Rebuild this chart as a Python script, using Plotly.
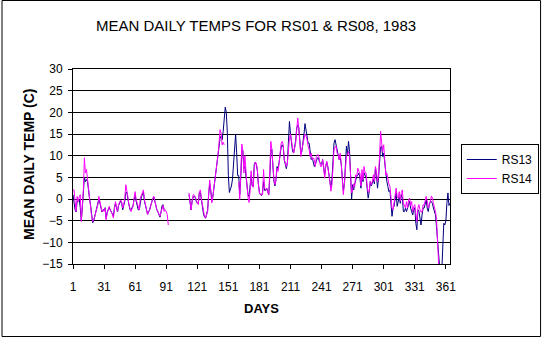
import plotly.graph_objects as go

days = list(range(1, 366))

# RS13 (navy) mean daily temperature, None = missing
rs13 = [
    1.0, -1.0, -2.5, -3.0, -0.5, -0.5, 0.0, -2.0, -5.0, -2.0,
    1.0, 5.0, 4.0, 4.5, 4.0, 1.5, 0.0, -1.5, -4.5, -5.5,
    -5.0, -4.0, -3.0, -2.5, -1.5, 0.0, -1.0, -2.5, -3.0, -2.5,
    -2.5, -2.0, -4.5, -3.0, -2.5, -2.0, -2.5, -3.0, -3.5, -4.0,
    -2.0, -1.0, -2.0, -3.0, -1.5, -1.0, -0.5, -1.0, -2.5, -1.5,
    -0.5, 1.5, 1.5, 0.0, -1.5, -2.5, -2.5, -2.0, -1.5, 0.0,
    1.0, -0.5, -1.5, -2.5, -2.5, -0.5, 0.5, 1.0, 1.5, -0.5,
    -1.5, -2.5, -3.5,
    -3.0, -2.5, -1.5, -0.5, 0.0, 0.5, -0.5,
    -2.0, -2.5, -3.0, -3.8, -4.2, -3.0, -1.5, -1.3, -2.5, None,
    None, None, None,
    None, None, None, None, None, None, None, None, None, None,
    None, None, None, None, None, None, None, None, None,
    1.0, -1.5, -2.5, -0.5, 0.5, 0.5, 0.5, -0.5,
    -1.0, -1.0, 1.5, 1.5, -0.5, -2.0, -3.5, -4.2, -4.4, -3.5,
    -2.5, 1.0, 3.5, 2.0, -0.5, 0.5, 2.5, 3.5, 6.0, 8.0,
    9.5, 11.5, 14.0, 14.5, 13.7, 15.6, 18.7,
    21.2, 20.0, 15.4, 5.4, 1.5, 2.3, 3.0, 4.6, 8.0, 11.0, 15.0, 10.8, 5.4,
    5.4, 1.0, 5.0, 11.0, 11.2, 7.0, 7.5, 5.0, 4.0, 1.0,
    0.5, 2.5, 5.5, 3.0, 3.0, 8.0, 8.5, 8.0, 6.5, 3.5,
    1.5, 1.0, 0.8, 1.5, 4.0,
    2.0, 2.0, 2.5, 1.5, 1.0,
    5.0, 11.0, 11.4, 7.0, 4.0, 3.0, 4.5, 7.5, 7.0, 8.5,
    10.5, 12.0, 12.5, 12.0, 9.0, 7.5, 7.0, 8.5, 12.0, 17.9,
    15.0, 12.5, 11.0, 10.6, 12.0, 13.5, 16.4, 17.0, 16.4, 13.0,
    10.6, 11.0, 12.5, 14.9, 17.4, 15.6, 14.0, 12.9, 12.9, 11.0,
    9.1, 9.5, 8.5, 7.5, 8.0, 9.0, 9.5, 9.5, 8.5, 8.3,
    8.0, 9.1, 7.0, 5.5, 7.5, 8.5, 7.5, 6.0, 4.1, 2.5,
    4.5, 8.3, 12.9, 13.7, 12.2, 10.6, 10.2, 9.1, 9.5, 8.0,
    4.5, 2.0, 3.3, 7.5, 12.2, 10.2, 13.3, 11.0, 5.0, 0.0,
    3.3, 2.1, 3.5, 4.5, 5.2, 5.5, 6.0, 5.0, 2.5, 5.5,
    4.0, 6.0, 5.5, 5.0, 2.5, 0.2, 1.7, 4.0, 3.0, 3.7,
    4.5, 3.5,
    7.0, 5.5, 2.5, 4.8, 8.3, 12.0, 12.2, 9.8,
    10.6, 8.0, 5.2, 4.1, 2.9, 1.7, 2.0, -1.3, -4.0, -2.1,
    -1.7, 0.0, 1.5, -1.7, -0.5, 0.5, -1.0, 1.0, 0.2, -2.9,
    -2.9, -2.1, -2.9, -2.1, -1.0, -0.5, -2.1, -2.9, -3.7, -2.5,
    -2.0, -5.6, -7.1, -2.5, -2.9, -4.4, -6.0, -3.7, -2.1, -2.1,
    -1.0, -0.2, -2.1, -2.9, -1.3, -0.6, -0.6, -1.0, -2.1, -2.9,
    -3.7, -6.4, -10.5, -14.0, -17.0, -19.0, -17.0, -9.4, -5.6, -6.0,
    -5.0, -1.0, 1.4, -1.5, -1.0,
]

# RS14 (magenta) mean daily temperature, None = missing
rs14 = [
    2.0, 2.1, -0.5, -2.9, 0.6, -0.6, 0.5, 1.0, -5.2, -1.7,
    2.1, 9.5, 6.0, 6.8, 4.5, 1.4, 0.2, -1.7, -4.0, -5.2,
    -4.8, -4.0, -2.9, -2.5, -1.3, 0.6, -0.5, -2.1, -2.9, -2.5,
    -2.9, -2.1, -4.8, -3.3, -2.5, -1.7, -2.5, -2.9, -3.5, -4.4,
    -1.7, -0.6, -1.7, -2.9, -1.3, -0.5, -0.2, -0.6, -2.1, -1.3,
    0.2, 3.3, 2.1, 0.5, -1.3, -2.5, -2.9, -2.3, -1.7, 0.2,
    1.7, -0.2, -1.0, -1.7, -2.5, 0.2, 1.0, 1.5, 2.1, -0.2,
    -1.7, -2.5, -3.6,
    -2.9, -2.5, -1.7, -0.6, 0.2, 0.6, -0.5,
    -2.1, -2.5, -2.9, -3.5, -4.0, -3.0, -2.0, -1.5, -2.9, -2.5,
    -2.9, -3.6, -6.0,
    None, None, None, None, None, None, None, None, None, None,
    None, None, None, None, None, None, None, None, None,
    1.4, -1.0, -2.5, -0.5, 1.0, 0.8, 0.6, -0.3,
    -1.0, -1.3, 1.7, 2.1, 0.0, -1.7, -3.5, -4.0, -4.4, -3.5,
    -2.9, 1.4, 4.4, 2.0, -0.9, 0.6, 2.5, 3.7, 6.0, 8.3,
    10.2, 12.9, 16.0, 15.2, 12.5, 13.1, 12.5,
    None, None, None, None, None, None, None, None, None, None, None, None, None,
    4.0, -0.1, 6.0, 12.7, 11.0, 6.0, 10.0, 4.6, 3.0, 0.4,
    -0.8, 2.0, 6.5, 3.5, 2.7, 7.0, 8.5, 8.3, 6.8, 3.3,
    1.4, 1.0, 1.0, 1.0, 6.8,
    2.5, 2.1, 2.5, 1.5, 1.0,
    6.4, 13.3, 11.4, 6.8, 4.5, 3.3, 4.5, 7.1, 6.4, 8.3,
    10.5, 12.9, 13.3, 12.5, 9.1, 8.0, 7.5, 8.3, 11.4, 14.0,
    15.0, 13.0, 11.8, 10.6, 11.5, 12.9, 16.0, 18.7, 16.4, 12.9,
    9.8, 11.4, 12.5, 14.0, 15.0, 14.5, 13.7, 12.2, 11.4, 9.8,
    10.6, 9.1, 9.5, 9.1, 7.5, 9.8, 10.2, 10.2, 9.1, 7.5,
    7.5, 9.1, 7.5, 4.8, 7.5, 8.7, 7.5, 6.0, 4.1, 1.8,
    3.3, 7.0, 11.4, 12.0, 12.2, 10.6, 10.2, 9.1, 10.6, 8.0,
    5.2, 1.0, 3.3, 7.5, 10.0, 10.2, 11.0, 9.8, 4.4, 1.4,
    2.1, 3.5, 2.9, 5.6, 5.2, 7.1, 6.4, 6.0, 3.0, 6.8,
    4.4, 7.5, 6.0, 6.0, 3.0, 1.5, 1.7, 4.1, 3.3, 4.1,
    5.6, 4.0,
    7.5, 6.4, 4.0, 5.5, 10.0, 15.6, 13.0, 11.0,
    12.5, 8.7, 5.5, 6.0, 4.1, 3.5, 2.9, 1.0, -2.1, -2.5,
    -0.6, 0.6, 2.5, 0.6, 0.2, 1.7, -0.5, 1.5, 2.1, -1.3,
    -1.3, -2.1, -0.6, -2.1, -0.2, 0.2, -1.5, -0.6, -3.0, -1.7,
    -1.3, -3.3, -5.2, -2.1, -1.3, -2.5, -3.0, -3.0, -1.3, -1.5,
    -0.2, 0.6, -0.5, -2.1, -1.3, -0.6, 0.7, 0.2, -1.0, -1.7,
    -2.9, -4.8, -11.0, -15.0,
    None, None, None, None, None, None, None, None, None, None, None,
]

tick_days = list(range(1, 362, 30))
tick_labels = [str(d) for d in tick_days]
y_ticks = list(range(-15, 31, 5))

FONT = "Liberation Sans, Arial, sans-serif"

fig = go.Figure()
fig.add_trace(go.Scatter(x=days[:len(rs13)], y=rs13, mode="lines", name="RS13",
                         line=dict(color="#000080", width=1), connectgaps=False))
fig.add_trace(go.Scatter(x=days[:len(rs14)], y=rs14, mode="lines", name="RS14",
                         line=dict(color="#FF00FF", width=1), connectgaps=False))

W, H = 551, 337
L, R, T, B = 73, 93, 69, 73
pw, ph = W - L - R, H - T - B

def px(x):
    return (x - L) / pw

def py(y):
    return (H - B - y) / ph

fig.update_layout(
    width=W, height=H,
    margin=dict(l=L, r=R, t=T, b=B, pad=0),
    paper_bgcolor="white", plot_bgcolor="white",
    font=dict(family=FONT, color="black", size=12),
    showlegend=True,
    legend=dict(x=px(469), y=py(144), xanchor="left", yanchor="top",
                bordercolor="black", borderwidth=1, bgcolor="white",
                font=dict(size=12, family=FONT), itemwidth=30),
    xaxis=dict(range=[1, 365], tickmode="array", tickvals=tick_days, ticktext=tick_labels,
               showgrid=False, zeroline=False, showline=True, linecolor="black", linewidth=1,
               mirror=True, ticks="outside", ticklen=4, tickcolor="black",
               tickfont=dict(size=12), ticklabelstandoff=8),
    yaxis=dict(range=[-15, 30], tickmode="array", tickvals=y_ticks,
               showgrid=True, gridcolor="black", gridwidth=1, zeroline=False,
               showline=True, linecolor="black", linewidth=1, mirror=True,
               ticks="outside", ticklen=4, tickcolor="black",
               tickfont=dict(size=12), ticklabelstandoff=3),
    annotations=[
        dict(text="MEAN DAILY TEMPS FOR RS01 &amp; RS08, 1983", x=px(260), y=py(26),
             xref="paper", yref="paper", showarrow=False, xanchor="center", yanchor="middle",
             font=dict(size=15, family=FONT)),
        dict(text="<b>MEAN DAILY TEMP (C)</b>", x=px(28), y=py(164), textangle=-90,
             xref="paper", yref="paper", showarrow=False, xanchor="center", yanchor="middle",
             font=dict(size=14, family=FONT)),
        dict(text="<b>DAYS</b>", x=px(265), y=py(308),
             xref="paper", yref="paper", showarrow=False, xanchor="center", yanchor="middle",
             font=dict(size=13, family=FONT)),
    ],
    shapes=[
        dict(type="rect", xref="paper", yref="paper",
             x0=px(0.5), x1=px(550.5), y0=py(336.5), y1=py(0.5),
             line=dict(color="black", width=1), fillcolor="rgba(0,0,0,0)", layer="below"),
    ],
)

fig.write_html("out.html")
